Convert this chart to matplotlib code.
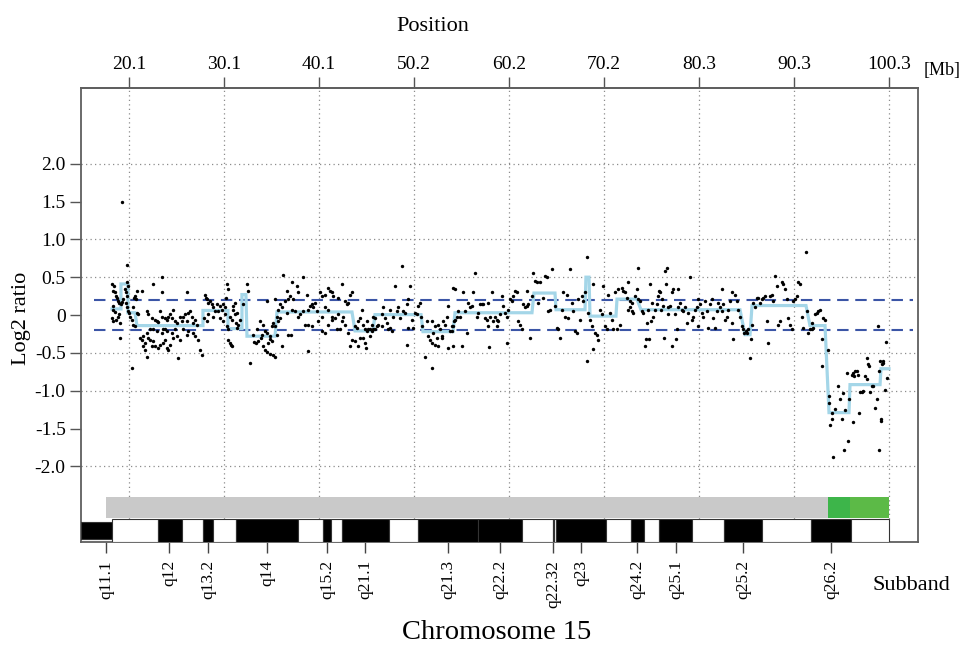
import matplotlib
matplotlib.use("Agg")
import matplotlib.pyplot as plt
from matplotlib.patches import Rectangle

plt.rcParams['font.family'] = ['Liberation Serif', 'DejaVu Serif']

# ---------------- data ----------------
top_ticks = [20.07, 30.10, 40.14, 50.17, 60.20, 70.24, 80.27, 90.31, 100.34]
top_labels = ["20.1", "30.1", "40.1", "50.2", "60.2", "70.2", "80.3", "90.3", "100.3"]

y_ticks = [2.0, 1.5, 1.0, 0.5, 0.0, -0.5, -1.0, -1.5, -2.0]
y_labels = ["2.0", "1.5", "1.0", "0.5", "0", "-0.5", "-1.0", "-1.5", "-2.0"]
y_grid = [2.0, 1.0, 0.5, -0.5, -1.0, -2.0]

band_labels = ["q11.1", "q12", "q13.2", "q14", "q15.2", "q21.1", "q21.3", "q22.2",
               "q22.32", "q23", "q24.2", "q25.1", "q25.2", "q26.2"]
band_label_pos = [17.64, 24.29, 28.41, 34.64, 40.98, 44.99, 53.76, 59.25,
                  64.85, 67.81, 73.72, 77.84, 84.92, 94.21]

band_start = [15.0, 18.27, 23.13, 25.67, 27.88, 28.94, 31.37, 37.92, 40.56, 41.40, 42.56,
              47.53, 50.59, 56.93, 61.58, 64.85, 65.0, 65.2, 70.45, 73.09, 74.46, 76.05,
              79.55, 82.92, 86.94, 92.10, 96.33]
band_end = [18.27, 23.13, 25.67, 27.88, 28.94, 31.37, 37.92, 40.56, 41.40, 42.56, 47.53,
            50.59, 56.93, 61.58, 64.85, 65.0, 65.2, 70.45, 73.09, 74.46, 76.05, 79.55,
            82.92, 86.94, 92.10, 96.33, 100.34]
band_stain = ["black", "white", "black", "white", "black", "white", "black", "white", "black",
              "white", "black", "white", "black", "black", "white", "black", "white", "black",
              "white", "black", "white", "black", "white", "black", "white", "black", "white"]

cn_start = [17.60, 93.90, 96.22]
cn_end = [93.90, 96.22, 100.34]
cn_color = ["#c9c9c9", "#3db54a", "#5cba47"]

seg_start = [18.27, 19.22, 19.96, 20.91, 27.88, 30.52, 32.00, 32.53, 35.70, 43.94, 46.05,
             51.12, 54.50, 62.84, 65.17, 68.33, 68.76, 71.61, 74.14, 85.13, 85.87, 91.99,
             94.00, 96.22, 99.49]
seg_end = [19.22, 19.96, 20.70, 27.88, 30.52, 32.00, 32.42, 35.49, 43.62, 45.84, 50.91,
           54.29, 62.63, 65.06, 68.23, 68.65, 71.50, 73.72, 84.60, 85.66, 91.57, 93.58,
           96.11, 99.39, 100.34]
seg_val = [0.08, 0.41, 0.03, -0.14, 0.06, -0.18, 0.27, -0.28, 0.04, -0.21, 0.005, -0.22,
           0.03, 0.29, 0.07, 0.50, -0.015, 0.21, 0.07, -0.26, 0.125, -0.14, -1.29, -0.92, -0.71]

threshold = 0.2

probes_q11_q14 = [
    (19.89, 0.66), (19.33, 1.49), (18.23, 0.41), (18.48, 0.38), (18.34, 0.32), (18.58, 0.30),
    (18.69, 0.25), (18.83, 0.22), (18.94, 0.18), (19.04, 0.16), (19.18, 0.14), (19.29, 0.17),
    (19.39, 0.21), (18.41, 0.12), (18.34, 0.07), (18.58, 0.04), (18.23, -0.04), (18.41, -0.08),
    (18.69, -0.06), (18.94, -0.02), (19.04, 0.01), (19.11, -0.10), (19.64, 0.34), (19.75, 0.30),
    (19.82, 0.25), (19.89, 0.43), (19.99, 0.38), (19.75, 0.16), (19.82, 0.10), (19.99, 0.05),
    (20.10, 0.02), (20.17, -0.02), (20.34, -0.06), (20.45, 0.10), (20.59, 0.23), (20.70, 0.25),
    (20.80, 0.21), (20.94, 0.03), (21.05, 0.01), (20.52, -0.13), (20.70, -0.15), (19.11, -0.30),
    (20.34, -0.70), (20.87, 0.32), (21.40, 0.32), (22.63, 0.41), (23.51, 0.50), (23.51, 0.30),
    (26.15, 0.30),
    (21.22, -0.30), (21.40, -0.33), (21.58, -0.28), (21.75, -0.37), (21.93, -0.24), (22.10, -0.30),
    (22.28, -0.33), (22.46, -0.41), (21.51, -0.41), (21.75, -0.46), (21.93, -0.55), (22.63, -0.35),
    (22.81, -0.41), (23.16, -0.44), (23.34, -0.39), (23.69, -0.37), (23.86, -0.33), (24.04, -0.44),
    (24.22, -0.46), (24.39, -0.39), (23.51, -0.24), (23.69, -0.19), (24.04, -0.21), (24.57, -0.24),
    (24.74, -0.30), (25.10, -0.28), (25.27, -0.57), (25.45, -0.33), (26.15, -0.26), (26.33, -0.21),
    (26.86, -0.24), (27.03, -0.28), (27.38, -0.33), (27.56, -0.46), (27.74, -0.53),
    (21.93, 0.05), (22.10, 0.01), (22.46, -0.04), (22.81, -0.06), (22.98, -0.08), (23.16, -0.09),
    (23.34, 0.05), (23.51, -0.02), (23.86, -0.04), (24.04, -0.06), (24.22, -0.02), (24.39, 0.01),
    (24.57, -0.04), (24.74, 0.07), (24.92, -0.08), (25.10, -0.10), (25.45, -0.02), (25.62, -0.08),
    (25.80, -0.02), (25.98, 0.01), (26.15, -0.08), (26.33, 0.03), (26.50, 0.05), (26.68, -0.02),
    (26.86, -0.10), (27.03, -0.06), (27.21, -0.13), (22.28, -0.19), (22.63, -0.18), (22.98, -0.21),
    (23.86, -0.19), (24.92, -0.18), (25.80, -0.19),
    (28.09, 0.27), (28.19, 0.23), (28.33, 0.21), (28.44, 0.16), (28.62, 0.18), (28.79, 0.14),
    (28.97, 0.10), (29.14, 0.05), (29.32, 0.14), (29.50, 0.05), (29.67, 0.12), (29.85, 0.07),
    (30.02, 0.14), (30.20, 0.10), (30.38, 0.41), (30.55, 0.34), (30.31, 0.23), (27.98, -0.04),
    (28.26, -0.08), (28.44, 0.01), (28.97, -0.02), (29.67, -0.04), (30.02, -0.08), (30.20, 0.01),
    (30.38, -0.15), (30.55, -0.19), (30.73, -0.02), (30.90, -0.06), (31.08, 0.07), (31.26, 0.01),
    (31.36, -0.10), (31.50, -0.17), (30.73, -0.37), (30.80, -0.39), (30.90, -0.41), (30.55, -0.33),
    (31.08, 0.12), (31.26, 0.16),
    (31.61, -0.13), (31.78, -0.06), (31.43, 0.03), (32.49, 0.41), (32.66, 0.32), (32.14, 0.14),
    (32.84, -0.64), (33.19, -0.26), (33.54, -0.19), (33.90, -0.08), (34.25, -0.13), (34.42, -0.21),
    (34.60, -0.24), (34.78, -0.37), (34.95, -0.28), (35.13, -0.15), (35.30, -0.10), (35.48, -0.15),
    (34.25, -0.41), (34.42, -0.46), (35.30, -0.53), (34.60, 0.18), (35.48, 0.21),
    (33.30, -0.36), (33.50, -0.37), (33.70, -0.35), (34.00, -0.30), (34.10, -0.27), (35.00, -0.32),
    (35.20, -0.34), (34.60, -0.49), (35.00, -0.52),
]

probes_q14_q21 = [
    (36.37, 0.53), (37.32, 0.43), (36.72, 0.32), (37.78, 0.38), (37.95, 0.30), (38.48, 0.50),
    (38.83, 0.27), (37.07, 0.25), (36.90, 0.21), (37.43, 0.21), (36.55, 0.18), (36.02, 0.14),
    (36.19, 0.10), (35.84, 0.07), (36.72, 0.03), (37.25, 0.07), (37.60, 0.05), (37.95, -0.02),
    (38.13, 0.01), (38.48, 0.05), (39.01, 0.07), (39.19, 0.12), (39.36, 0.14), (39.54, 0.10),
    (39.71, 0.16), (39.89, 0.05), (35.67, -0.02), (35.84, -0.08), (36.02, -0.04), (35.67, -0.26),
    (36.90, -0.26), (37.18, -0.27), (36.19, -0.41), (38.66, -0.13), (39.01, -0.13), (39.36, -0.15),
    (39.01, -0.48), (35.49, -0.55), (40.24, 0.30), (40.42, 0.25), (40.77, 0.27), (41.12, 0.36),
    (41.30, 0.32), (41.47, 0.30), (41.65, 0.25), (42.18, 0.23), (42.53, 0.41), (42.88, 0.18),
    (43.06, 0.14), (43.23, 0.16), (43.41, 0.27), (43.59, 0.30), (40.42, -0.02), (40.77, 0.10),
    (41.12, 0.07), (41.47, -0.02), (41.83, -0.04), (42.18, 0.01), (42.53, -0.08), (42.71, -0.02),
    (40.07, -0.08), (40.42, -0.21), (40.77, -0.24), (41.12, -0.13), (41.47, -0.06), (42.00, -0.19),
    (42.35, -0.19), (42.88, -0.13), (43.23, -0.24), (43.59, -0.33), (43.41, -0.41),
    (43.94, -0.15), (44.11, -0.17), (44.29, -0.08), (44.47, -0.04), (44.64, 0.07), (44.82, -0.13),
    (44.99, -0.19), (45.17, -0.21), (45.35, -0.19), (45.52, -0.18), (45.70, -0.21), (45.87, -0.19),
    (43.94, -0.35), (44.29, -0.41), (44.47, -0.30), (44.82, -0.30), (44.99, -0.37), (45.06, -0.44),
    (45.52, -0.28), (45.70, -0.13), (46.05, -0.04), (45.17, -0.08), (45.87, -0.02),
    (46.05, -0.19), (46.23, -0.15), (46.40, -0.13), (46.75, -0.15), (47.11, -0.04), (47.28, -0.10),
    (47.46, -0.19), (47.63, -0.17), (47.81, -0.21), (48.16, 0.38), (48.34, 0.05), (48.51, 0.10),
    (48.69, -0.04), (48.87, 0.65), (49.04, 0.05), (49.22, 0.03), (49.39, 0.14), (49.57, 0.21),
    (49.75, 0.38), (49.92, -0.06), (50.10, -0.17), (50.27, 0.03), (50.45, 0.01), (50.63, 0.12),
    (50.80, 0.16), (50.91, -0.02), (47.63, 0.07), (47.99, -0.02), (49.39, -0.39), (49.57, -0.17),
    (46.75, 0.01), (46.93, 0.10),
    (51.33, -0.55), (51.68, -0.28), (51.86, -0.33), (52.03, -0.08), (52.21, -0.24), (52.39, -0.15),
    (52.56, -0.30), (52.74, -0.13), (52.91, -0.19), (53.09, -0.28), (53.27, -0.08), (53.44, -0.13),
    (53.62, -0.02), (53.79, 0.12), (53.97, -0.21), (54.15, -0.15), (54.32, 0.36), (52.39, -0.39),
    (52.03, -0.37), (52.74, -0.41), (53.09, -0.30), (53.79, -0.44), (52.03, -0.70), (50.98, -0.15),
    (51.51, -0.08),
]

probes_q21_q24 = [
    (54.15, -0.21), (54.25, -0.15), (54.39, -0.08), (54.50, -0.06), (54.67, -0.02), (54.85, 0.05),
    (54.32, -0.41), (55.20, -0.41), (54.50, 0.34), (55.03, -0.02), (55.38, 0.30), (55.55, 0.05),
    (55.73, -0.24), (55.91, 0.16), (56.08, 0.10), (56.26, 0.12), (56.43, 0.30), (56.61, 0.56),
    (56.79, -0.02), (56.96, 0.03), (57.14, 0.14), (57.31, 0.14), (57.49, 0.14), (57.67, -0.04),
    (57.84, -0.06), (58.02, 0.16), (58.19, -0.02), (58.37, 0.30), (58.55, -0.08), (58.72, -0.02),
    (58.90, -0.06), (59.07, -0.08), (59.25, 0.01), (59.43, 0.25), (59.60, 0.12), (59.78, 0.03),
    (59.95, -0.02), (60.13, 0.07), (58.12, -0.42), (58.02, -0.15), (58.90, -0.15), (59.95, -0.37),
    (60.31, 0.21), (60.48, 0.18), (60.66, 0.25), (60.83, 0.32), (61.01, 0.30), (61.19, -0.08),
    (61.36, -0.13), (61.54, -0.19), (61.71, 0.14), (61.89, 0.10), (62.07, 0.12), (62.24, 0.14),
    (62.07, 0.32), (62.42, -0.30), (62.59, 0.25), (62.77, 0.56), (62.95, 0.45), (63.12, 0.43),
    (63.30, 0.16), (63.47, 0.43), (63.83, 0.23), (64.00, 0.52), (64.18, 0.50), (64.35, 0.05),
    (64.53, 0.07), (64.71, 0.61), (65.06, 0.12), (65.23, -0.17), (65.41, -0.19), (65.59, -0.30),
    (65.76, 0.07), (65.94, 0.30), (66.11, -0.02), (66.29, 0.27), (66.47, -0.04), (66.64, 0.61),
    (66.82, 0.16), (66.99, 0.05), (67.17, -0.21), (67.35, -0.24), (67.52, 0.21), (67.70, -0.06),
    (67.87, 0.25), (68.05, 0.18), (68.23, 0.30), (68.40, 0.76), (68.58, 0.03), (68.75, -0.06),
    (68.93, -0.15), (69.11, 0.41), (69.28, -0.24), (69.46, -0.26), (69.63, -0.33), (69.04, -0.45),
    (68.40, -0.61), (69.81, 0.07), (69.99, 0.01), (70.16, 0.38), (70.34, -0.15), (70.51, -0.19),
    (70.69, 0.27), (70.87, 0.03), (71.04, -0.06), (71.22, -0.19), (71.39, 0.30), (71.57, -0.19),
    (71.75, 0.34), (71.92, -0.13), (72.10, 0.36), (72.27, 0.32),
]

probes_q24_q26 = [
    (72.45, 0.30), (72.63, 0.23), (72.80, 0.43), (72.98, 0.18), (73.15, 0.16), (73.33, 0.03),
    (72.80, 0.07), (72.98, 0.10), (73.15, 0.05), (73.51, 0.25), (73.68, 0.34), (73.79, 0.62),
    (73.86, 0.21), (74.03, 0.18), (74.21, 0.05), (74.39, 0.03), (74.56, -0.41), (74.63, -0.32),
    (74.74, -0.10), (74.91, 0.07), (74.98, -0.32), (75.09, 0.41), (75.20, -0.08), (75.27, 0.16),
    (75.44, -0.02), (75.62, 0.07), (75.79, 0.14), (75.97, 0.25), (76.04, 0.32), (76.15, 0.30),
    (76.25, 0.07), (76.32, 0.21), (76.50, 0.12), (76.60, -0.30), (76.67, 0.58), (76.85, 0.62),
    (76.74, 0.41), (76.96, 0.01), (77.03, 0.10), (77.20, 0.12), (77.38, 0.30), (77.45, -0.41),
    (77.55, 0.34), (77.73, 0.01), (77.80, -0.32), (77.91, -0.19), (78.01, 0.34), (78.08, 0.10),
    (78.26, 0.16), (78.43, 0.07), (78.61, 0.05), (78.79, 0.10), (78.96, -0.10), (79.14, 0.03),
    (79.31, 0.50), (79.49, -0.06), (79.67, -0.02), (79.84, 0.07), (80.02, 0.10), (80.12, 0.21),
    (80.19, -0.15), (80.37, 0.14), (80.55, 0.03), (80.72, -0.02), (80.90, 0.18), (81.07, 0.05),
    (81.25, -0.17), (81.43, 0.14), (81.60, 0.21), (81.78, -0.04), (81.95, -0.17), (82.13, 0.05),
    (82.31, 0.16), (82.48, 0.10), (82.66, 0.34), (82.66, 0.05), (82.83, 0.14), (83.01, -0.06),
    (83.19, -0.02), (83.36, 0.07), (83.54, 0.18), (83.71, 0.30), (83.78, -0.10), (83.89, -0.32),
    (84.07, 0.27), (84.24, 0.18), (84.42, 0.07), (84.59, -0.02), (84.77, -0.15), (84.95, -0.19),
    (85.05, -0.24), (85.19, -0.21), (85.30, -0.24), (85.47, -0.19), (85.65, -0.57), (85.76, -0.32),
    (85.83, -0.13), (86.00, 0.16), (86.18, 0.10), (86.35, 0.23), (86.53, 0.23), (86.71, 0.16),
    (86.88, 0.21), (87.06, 0.23), (87.23, 0.25), (87.41, -0.08), (87.59, -0.37), (87.76, 0.25),
    (87.94, 0.27), (88.11, 0.18), (88.29, 0.52), (88.47, 0.38), (88.64, -0.13), (88.82, -0.08),
    (88.99, 0.43), (89.17, 0.41), (89.35, 0.34), (89.52, 0.21), (89.70, -0.04), (89.87, -0.13),
    (90.05, -0.19), (90.23, 0.18), (90.40, 0.21), (90.58, 0.25), (90.75, 0.43), (90.93, 0.41),
    (91.11, -0.02), (91.28, -0.17),
]

probes_q26 = [
    (91.56, 0.83), (91.63, 0.05), (91.81, -0.24), (91.98, -0.19), (92.16, -0.10), (92.16, -0.19),
    (92.33, -0.17), (92.51, 0.01), (92.69, 0.03), (92.86, 0.05), (93.04, 0.07), (93.21, -0.32),
    (93.39, -0.04), (93.57, -0.06), (93.21, -0.67), (93.92, -0.46), (94.02, -1.07), (94.02, -1.16),
    (94.09, -1.45), (94.27, -1.29), (94.27, -1.38), (94.38, -1.88), (94.62, -1.24), (94.97, -0.94),
    (95.15, -1.11), (95.33, -1.38), (95.50, -1.03), (95.57, -1.79), (95.68, -1.25), (95.85, -0.77),
    (96.03, -1.66), (96.14, -1.11), (96.38, -0.79), (96.49, -0.76), (96.56, -1.42), (96.63, -0.81),
    (96.73, -0.74), (96.91, -0.74), (97.09, -0.79), (97.19, -1.29), (97.26, -1.02), (97.44, -1.02),
    (97.61, -1.01), (97.79, -0.81), (97.97, -0.85), (98.04, -0.57), (98.14, -0.65), (98.25, -0.67),
    (98.32, -1.02), (98.49, -0.94), (98.67, -0.94), (98.85, -1.23), (99.09, -1.11), (99.20, -0.14),
    (99.30, -0.74), (99.37, -0.61), (99.44, -1.38), (99.44, -1.40), (99.55, -0.65), (99.66, -0.63),
    (99.73, -0.61), (99.90, -0.99), (99.30, -1.79), (100.01, -0.36), (100.08, -0.83),
]

# ---------------- figure ----------------
W, H = 962, 647
fig = plt.figure(figsize=(W / 100, H / 100), dpi=100)
ax = fig.add_axes([81 / W, 1 - 542 / H, (918 - 81) / W, (542 - 88) / H])
ax.set_xlim(15.0, 103.4)
ax.set_ylim(-3.0, 3.0)

grid_kw = dict(color="#8c8c8c", lw=0.9, linestyle=(0, (1, 2.6)), zorder=1)
for yv in y_grid:
    ax.axhline(yv, **grid_kw)
ax.vlines(top_ticks, -2.69, 3.0, **grid_kw)

ax.hlines([threshold, -threshold], 16.4, 102.9, colors="#3b55a6", lw=1.5,
          linestyles=(0, (5.5, 3.2)), zorder=2)

xs, ys = [], []
for s, e, v in zip(seg_start, seg_end, seg_val):
    xs += [s, e]
    ys += [v, v]
ax.plot(xs, ys, color="#a4d6e8", lw=2.3, zorder=3, solid_joinstyle="miter")

probes = probes_q11_q14 + probes_q14_q21 + probes_q21_q24 + probes_q24_q26 + probes_q26
ax.scatter([p[0] for p in probes], [p[1] for p in probes], s=6, c="black",
           linewidths=0, zorder=4)

# copy-number state bar
for s, e, c in zip(cn_start, cn_end, cn_color):
    ax.add_patch(Rectangle((s, -2.68), e - s, 0.275, facecolor=c, edgecolor="none", zorder=5))

# ideogram
for i, (s, e, st) in enumerate(zip(band_start, band_end, band_stain)):
    if i == 0:
        y0, h = -2.96, 0.23
    else:
        y0, h = -2.995, 0.305
    ax.add_patch(Rectangle((s, y0), e - s, h,
                           facecolor="black" if st == "black" else "white",
                           edgecolor="#333333", lw=0.8, zorder=5))

# axes styling
for sp in ax.spines.values():
    sp.set_color("#5f5f5f")
    sp.set_linewidth(1.3)

ax.set_yticks(y_ticks, labels=y_labels)
ax.tick_params(axis="y", direction="out", length=8, width=1, color="#555555",
               pad=3, labelsize=14)
ax.set_xticks(band_label_pos, labels=band_labels, rotation=90)
ax.tick_params(axis="x", direction="out", length=8, width=1, color="#444444",
               pad=5, labelsize=12.5)

secax = ax.secondary_xaxis("top")
secax.set_xticks(top_ticks, labels=top_labels)
secax.tick_params(direction="out", length=8, width=1, color="#555555", pad=3, labelsize=14)
secax.spines["top"].set_color("#5f5f5f")
secax.spines["top"].set_linewidth(1.3)

fig.text(433 / W, 1 - 31 / H, "Position", ha="center", va="baseline", fontsize=16)
fig.text(924 / W, 1 - 75 / H, "[Mb]", ha="left", va="baseline", fontsize=13)
fig.text(22 / W, 1 - 318 / H, "Log2 ratio", ha="center", va="center", rotation=90, fontsize=16)
fig.text(873 / W, 1 - 590 / H, "Subband", ha="left", va="baseline", fontsize=16)
fig.text(497 / W, 1 - 639 / H, "Chromosome 15", ha="center", va="baseline", fontsize=20.5)

fig.savefig("out.png", dpi=100)
